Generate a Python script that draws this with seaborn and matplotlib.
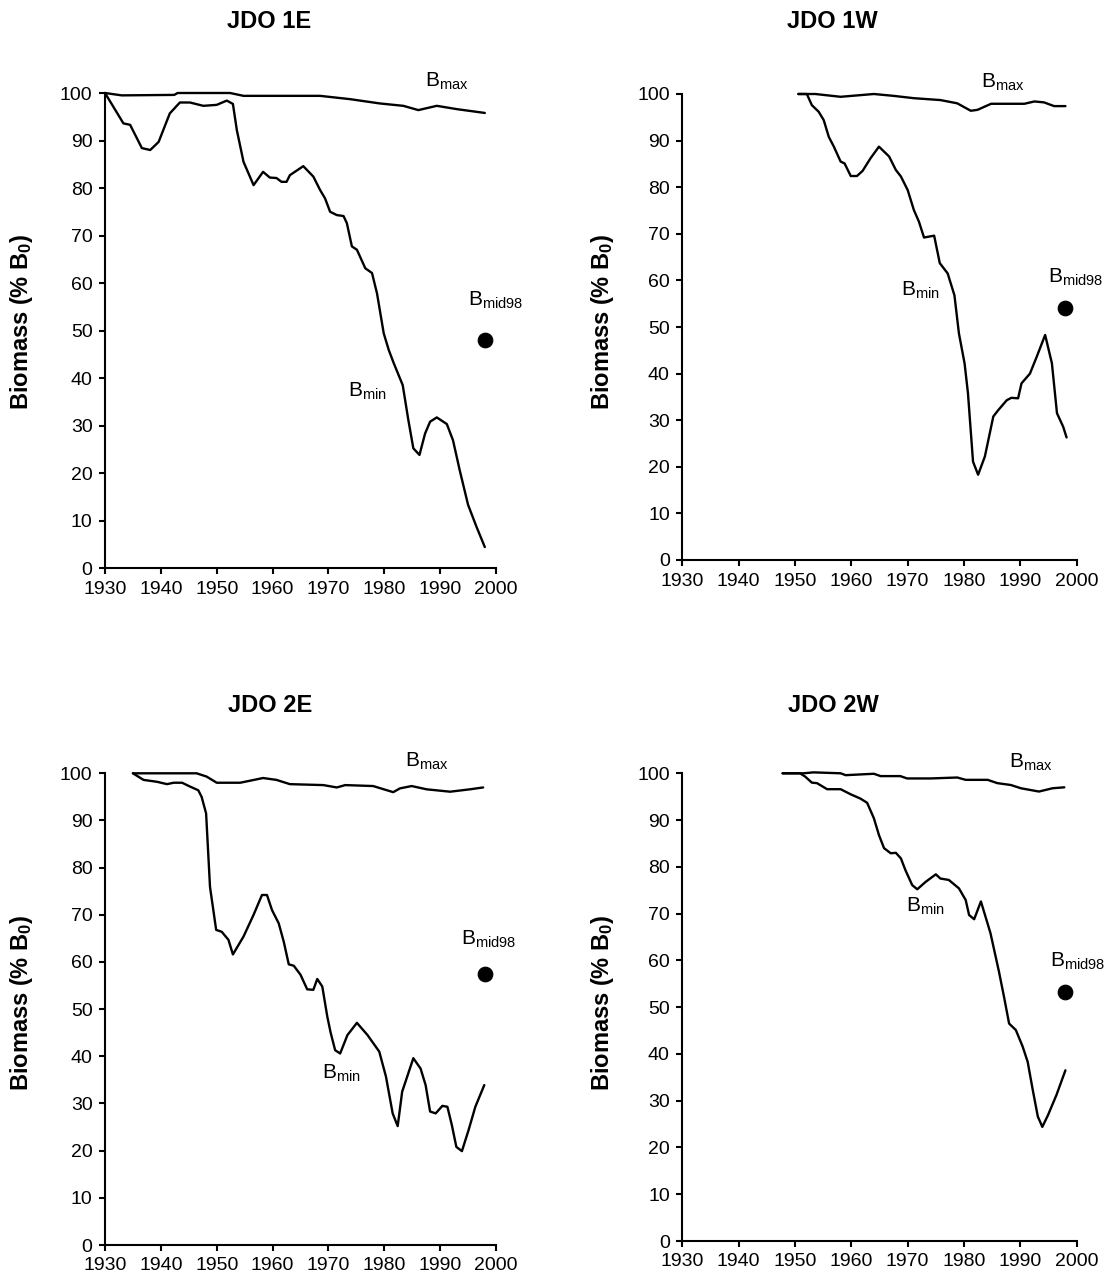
import matplotlib
matplotlib.use("Agg")
import matplotlib.pyplot as plt
import seaborn as sns

# ---------------- data ----------------
titles = ["JDO 1E", "JDO 1W", "JDO 2E", "JDO 2W"]
xticks = [1930, 1940, 1950, 1960, 1970, 1980, 1990, 2000]
yticks = [0, 10, 20, 30, 40, 50, 60, 70, 80, 90, 100]

# JDO 1E
bmax_1e_year = [1930, 1933, 1942.4, 1943, 1952.4, 1954.8, 1968.5, 1973.9, 1979.2, 1983.4, 1986.1, 1989.4, 1993, 1998]
bmax_1e_val = [100, 99.5, 99.6, 100, 100, 99.4, 99.4, 98.7, 97.8, 97.3, 96.4, 97.3, 96.6, 95.8]
bmin_1e_year = [1930, 1933.3, 1934.5, 1936.6, 1938.1, 1939.6, 1941.6, 1943.4, 1945.2, 1947.6, 1950, 1951.8,
                1952.9, 1953.6, 1954.8, 1956.6, 1958.3, 1959.5, 1960.7, 1961.6, 1962.5, 1963.1, 1965.5,
                1967.3, 1968.5, 1969.4, 1970.3, 1971.5, 1972.7, 1973.3, 1974.2, 1975.1, 1976.6, 1977.8,
                1978.7, 1979.9, 1980.8, 1981.7, 1983.3, 1984.3, 1985.2, 1986.3, 1987.3, 1988.2, 1989.4,
                1991.2, 1992.3, 1993.5, 1995.0, 1996.5, 1998]
bmin_1e_val = [100, 93.6, 93.3, 88.4, 88.0, 89.7, 95.7, 98, 98, 97.3, 97.5, 98.4,
               97.7, 92.2, 85.5, 80.6, 83.4, 82.2, 82.1, 81.3, 81.3, 82.7, 84.6,
               82.4, 79.6, 77.8, 75.0, 74.3, 74.1, 72.6, 67.7, 67.0, 63.1, 62.1,
               57.8, 49.4, 45.9, 43.1, 38.5, 31.2, 25.2, 23.8, 28.3, 30.8, 31.7,
               30.3, 26.9, 20.6, 13.3, 8.7, 4.4]
bmid_1e_year = [1998]
bmid_1e_val = [48.1]

# JDO 1W
bmax_1w_year = [1950.6, 1953.6, 1955.1, 1958.1, 1964.0, 1967.5, 1971.1, 1975.8, 1978.8, 1981.2, 1982.4,
                1984.8, 1990.7, 1992.5, 1994.2, 1996.0, 1998]
bmax_1w_val = [100, 100, 99.8, 99.4, 100, 99.6, 99.1, 98.7, 98.0, 96.4, 96.6,
               97.9, 97.9, 98.4, 98.2, 97.4, 97.4]
bmin_1w_year = [1950.6, 1952.1, 1953.0, 1954.2, 1955.1, 1956.0, 1956.9, 1958.1, 1958.8, 1959.9, 1961,
                1962, 1963.4, 1964.9, 1966.7, 1967.9, 1968.8, 1970.0, 1971.1, 1972.0, 1972.9, 1974.7,
                1975.7, 1977.1, 1978.3, 1979.1, 1980.1, 1980.7, 1981.6, 1982.5, 1983.7, 1985.2, 1986.1,
                1987.6, 1988.4, 1989.6, 1990.2, 1991.7, 1992.9, 1994.4, 1995.6, 1996.5, 1997.6, 1998.2]
bmin_1w_val = [100, 100, 97.6, 96.2, 94.4, 90.8, 88.7, 85.5, 85.1, 82.4, 82.4,
               83.5, 86.2, 88.7, 86.6, 83.7, 82.3, 79.4, 75.1, 72.6, 69.2, 69.6,
               63.7, 61.5, 56.8, 48.6, 42.2, 35.8, 21.1, 18.3, 22.2, 30.8, 32.2,
               34.3, 34.8, 34.7, 37.9, 40.0, 43.6, 48.3, 42.2, 31.5, 28.6, 26.3]
bmid_1w_year = [1998]
bmid_1w_val = [54.1]

# JDO 2E
bmax_2e_year = [1935, 1937.8, 1946.4, 1948.2, 1950, 1954.2, 1958.3, 1960.7, 1963.1, 1969.1, 1971.5,
                1973, 1978.0, 1981.6, 1982.8, 1984.9, 1987.6, 1991.8, 1995.3, 1997.7]
bmax_2e_val = [100, 100, 100, 99.3, 98, 98, 99, 98.6, 97.7, 97.5, 97,
               97.5, 97.3, 96, 96.8, 97.3, 96.6, 96.1, 96.6, 97]
bmin_2e_year = [1935, 1936.9, 1939.3, 1941.1, 1942.3, 1943.8, 1945.2, 1946.7, 1947.3, 1948.1, 1948.8,
                1949.9, 1950.9, 1952.1, 1952.9, 1954.8, 1956.6, 1958.1, 1959.0, 1959.9, 1961.1, 1962.0,
                1962.9, 1963.8, 1965.0, 1966.2, 1967.3, 1968.0, 1968.9, 1969.8, 1970.4, 1971.2, 1972.1,
                1973.4, 1975.1, 1977, 1979.1, 1980.3, 1981.5, 1982.4, 1983.2, 1985.2, 1986.5, 1987.4,
                1988.2, 1989.2, 1990.4, 1991.3, 1992.1, 1992.9, 1993.9, 1995.1, 1996.3, 1997.9]
bmin_2e_val = [100, 98.6, 98.2, 97.7, 98, 98, 97.2, 96.4, 95.0, 91.5, 75.9,
               66.8, 66.4, 64.7, 61.6, 65.4, 70, 74.2, 74.2, 71, 68.2, 64.3,
               59.5, 59.2, 57.3, 54.2, 54.1, 56.4, 54.8, 48.4, 45.0, 41.3, 40.6,
               44.5, 47.1, 44.5, 41.0, 35.7, 27.9, 25.2, 32.5, 39.6, 37.4, 33.9,
               28.3, 27.9, 29.5, 29.3, 25.4, 20.8, 19.9, 24.4, 29.3, 33.9]
bmid_2e_year = [1998]
bmid_2e_val = [57.4]

# JDO 2W
bmax_2w_year = [1947.8, 1951.5, 1953.3, 1958.1, 1959, 1964, 1965.2, 1968.7, 1969.9, 1974.1, 1978.8,
                1980.3, 1984.2, 1985.9, 1988.3, 1990.1, 1993.3, 1995.7, 1997.8]
bmax_2w_val = [100, 100, 100.2, 100, 99.6, 99.9, 99.4, 99.4, 98.9, 98.9, 99.1,
               98.6, 98.6, 97.9, 97.5, 96.8, 96.1, 96.8, 97.0]
bmin_2w_year = [1947.8, 1950.9, 1951.8, 1953.0, 1953.9, 1955.7, 1958.1, 1959.9, 1961.6, 1962.8, 1964.0,
                1964.9, 1965.8, 1967.0, 1967.9, 1968.8, 1969.6, 1970.8, 1971.7, 1973.2, 1975.0, 1975.8,
                1977.3, 1979.1, 1980.3, 1980.9, 1981.8, 1983.0, 1984.7, 1986.2, 1987.1, 1988.0, 1989.2,
                1990.4, 1991.3, 1992.2, 1993.1, 1993.9, 1994.9, 1996.4, 1998.0]
bmin_2w_val = [100, 100, 99.3, 98, 97.9, 96.6, 96.6, 95.5, 94.6, 93.7, 90.4,
               86.8, 84.0, 82.9, 83.0, 81.8, 79.3, 76.1, 75.2, 76.8, 78.4, 77.5,
               77.2, 75.4, 72.9, 69.7, 68.8, 72.6, 65.8, 57.6, 52.2, 46.5, 45.1,
               41.6, 38.3, 32.3, 26.6, 24.4, 26.9, 31.2, 36.5]
bmid_2w_year = [1998]
bmid_2w_val = [53.2]

# label anchor positions (data coords: year, value) for B_max, B_min, B_mid98
label_pos = [
    [(1987.3, 101.3), (1973.5, 36.1), (1995.0, 55.2)],
    [(1983.0, 101.3), (1968.9, 56.7), (1994.9, 59.5)],
    [(1983.7, 101.3), (1968.9, 35.2), (1993.7, 63.6)],
    [(1988.0, 101.3), (1969.7, 70.4), (1995.2, 58.6)],
]

panels = [
    (bmax_1e_year, bmax_1e_val, bmin_1e_year, bmin_1e_val, bmid_1e_year, bmid_1e_val),
    (bmax_1w_year, bmax_1w_val, bmin_1w_year, bmin_1w_val, bmid_1w_year, bmid_1w_val),
    (bmax_2e_year, bmax_2e_val, bmin_2e_year, bmin_2e_val, bmid_2e_year, bmid_2e_val),
    (bmax_2w_year, bmax_2w_val, bmin_2w_year, bmin_2w_val, bmid_2w_year, bmid_2w_val),
]

# ---------------- style ----------------
sns.set_theme(style="ticks")
plt.rcParams["font.family"] = ["Liberation Sans", "DejaVu Sans"]
plt.rcParams["mathtext.fontset"] = "custom"
plt.rcParams["mathtext.rm"] = "Liberation Sans"
plt.rcParams["mathtext.it"] = "Liberation Sans:italic"
plt.rcParams["mathtext.bf"] = "Liberation Sans:bold"
plt.rcParams["text.color"] = "black"
plt.rcParams["axes.labelcolor"] = "black"
plt.rcParams["xtick.color"] = "black"
plt.rcParams["ytick.color"] = "black"

W, H = 1109, 1286
fig = plt.figure(figsize=(W / 100, H / 100), dpi=100)

# axes boxes in pixels: (left, right, top(y=100), bottom(y=0))
boxes = [
    (105, 496, 93, 568),
    (682.3, 1076.7, 94, 560),
    (105, 496, 773.3, 1245),
    (682.3, 1076.7, 773.3, 1241),
]
title_pos = [(269, 22), (832, 22), (270, 705), (833, 705)]
ylab_pos = [(22, 322), (603, 322), (22, 1003), (603, 1003)]

for i, (box, data) in enumerate(zip(boxes, panels)):
    l, r, t, b = box
    ax = fig.add_axes([l / W, 1 - b / H, (r - l) / W, (b - t) / H])
    mx_y, mx_v, mn_y, mn_v, md_y, md_v = data
    sns.lineplot(x=mx_y, y=mx_v, ax=ax, color="black", lw=1.7, estimator=None,
                 sort=False, clip_on=False)
    sns.lineplot(x=mn_y, y=mn_v, ax=ax, color="black", lw=1.7, estimator=None,
                 sort=False, clip_on=False)
    sns.scatterplot(x=md_y, y=md_v, ax=ax, color="black", s=110, edgecolor="black",
                    clip_on=False, zorder=5)
    ax.set_xlim(1930, 2000)
    ax.set_ylim(0, 100)
    ax.set_xticks(xticks)
    ax.set_yticks(yticks)
    ax.set_xlabel("")
    ax.set_ylabel("")
    sns.despine(ax=ax)
    for s in ["left", "bottom"]:
        ax.spines[s].set_linewidth(1.5)
        ax.spines[s].set_color("black")
    ax.tick_params(axis="both", direction="out", length=4, width=1.5, colors="black",
                   labelsize=14, pad=5)
    ax.set_facecolor("white")

    (x1, y1), (x2, y2), (x3, y3) = label_pos[i]
    ax.text(x1, y1, r"B$_{\mathrm{max}}$", fontsize=15, ha="left", va="baseline", color="black")
    ax.text(x2, y2, r"B$_{\mathrm{min}}$", fontsize=15, ha="left", va="baseline", color="black")
    ax.text(x3, y3, r"B$_{\mathrm{mid98}}$", fontsize=15, ha="left", va="baseline", color="black")

    tx, ty = title_pos[i]
    fig.text(tx / W, 1 - ty / H, titles[i], fontsize=17, fontweight="bold",
             ha="center", va="center", color="black")
    yx, yy = ylab_pos[i]
    fig.text(yx / W, 1 - yy / H, r"Biomass (% B$_{\mathbf{0}}$)", fontsize=17,
             fontweight="bold", rotation=90, ha="center", va="center", color="black")

fig.savefig("out.png", dpi=100, facecolor="white")
